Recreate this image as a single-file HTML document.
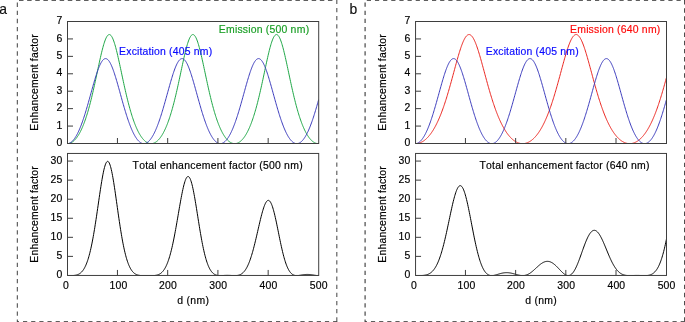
<!DOCTYPE html>
<html lang="en"><head><meta charset="utf-8"><title>Enhancement factor</title>
<style>html,body{margin:0;padding:0;background:#fff;}body{width:685px;height:322px;overflow:hidden;}svg{display:block;}text{font-family:"Liberation Sans",sans-serif;stroke-width:0.18px;stroke-linejoin:round;}</style></head><body>
<svg width="685" height="322" viewBox="0 0 685 322">
<rect width="685" height="322" fill="#fff"/>
<line x1="17.35" y1="0.00" x2="17.35" y2="322.00" stroke="#585858" stroke-width="1.15" stroke-dasharray="4.40 3.73" stroke-dashoffset="-2.50"/>
<line x1="336.80" y1="0.00" x2="336.80" y2="322.00" stroke="#5c5c5c" stroke-width="1.15" stroke-dasharray="4.30 3.84" stroke-dashoffset="8.39"/>
<line x1="17.35" y1="0.10" x2="335.50" y2="0.10" stroke="#2a2a2a" stroke-width="1.30" stroke-dasharray="4.50 3.63" stroke-dashoffset="-1.65"/>
<line x1="17.35" y1="321.90" x2="337.40" y2="321.90" stroke="#2a2a2a" stroke-width="1.30" stroke-dasharray="4.20 3.96" stroke-dashoffset="2.51"/>
<line x1="365.10" y1="0.00" x2="365.10" y2="322.00" stroke="#555555" stroke-width="1.30" stroke-dasharray="4.30 3.83" stroke-dashoffset="-2.50"/>
<line x1="684.85" y1="0.00" x2="684.85" y2="322.00" stroke="#222222" stroke-width="1.30" stroke-dasharray="4.40 3.73" stroke-dashoffset="8.03"/>
<line x1="365.10" y1="0.10" x2="684.85" y2="0.10" stroke="#2a2a2a" stroke-width="1.30" stroke-dasharray="4.20 3.95" stroke-dashoffset="-1.70"/>
<line x1="365.10" y1="321.90" x2="684.85" y2="321.90" stroke="#2a2a2a" stroke-width="1.30" stroke-dasharray="4.20 3.95" stroke-dashoffset="2.30"/>
<text transform="translate(-0.70,13.80) scale(1.000,1)" x="0.00" y="0" font-size="13.90" fill="#111" stroke="#111" stroke-width="0.30">a</text>
<text transform="translate(349.40,13.80) scale(1.000,1)" x="0.00" y="0" font-size="13.90" fill="#111" stroke="#111" stroke-width="0.30">b</text>
<clipPath id="c0top"><rect x="67.50" y="21.50" width="251.20" height="122.50"/></clipPath>
<g fill="none" stroke-width="1.00" stroke-linejoin="round" clip-path="url(#c0top)">
<path d="M67.50,143.65 L67.90,143.64 L68.30,143.61 L68.71,143.55 L69.11,143.47 L69.51,143.37 L69.91,143.25 L70.31,143.10 L70.72,142.93 L71.12,142.74 L71.52,142.53 L71.92,142.29 L72.32,142.03 L72.72,141.74 L73.13,141.44 L73.53,141.11 L73.93,140.75 L74.33,140.37 L74.73,139.97 L75.14,139.54 L75.54,139.09 L75.94,138.61 L76.34,138.11 L76.74,137.58 L77.15,137.03 L77.55,136.45 L77.95,135.84 L78.35,135.21 L78.75,134.55 L79.16,133.86 L79.56,133.15 L79.96,132.41 L80.36,131.63 L80.76,130.84 L81.17,130.01 L81.57,129.15 L81.97,128.26 L82.37,127.35 L82.77,126.40 L83.17,125.42 L83.58,124.41 L83.98,123.37 L84.38,122.30 L84.78,121.20 L85.18,120.07 L85.59,118.90 L85.99,117.70 L86.39,116.47 L86.79,115.21 L87.19,113.91 L87.60,112.58 L88.00,111.22 L88.40,109.83 L88.80,108.40 L89.20,106.94 L89.61,105.45 L90.01,103.93 L90.41,102.38 L90.81,100.80 L91.21,99.18 L91.62,97.54 L92.02,95.87 L92.42,94.17 L92.82,92.45 L93.22,90.70 L93.62,88.93 L94.03,87.13 L94.43,85.32 L94.83,83.49 L95.23,81.64 L95.63,79.77 L96.04,77.90 L96.44,76.02 L96.84,74.13 L97.24,72.23 L97.64,70.34 L98.05,68.45 L98.45,66.57 L98.85,64.70 L99.25,62.84 L99.65,61.01 L100.06,59.19 L100.46,57.41 L100.86,55.65 L101.26,53.94 L101.66,52.26 L102.07,50.64 L102.47,49.06 L102.87,47.54 L103.27,46.09 L103.67,44.70 L104.07,43.38 L104.48,42.14 L104.88,40.97 L105.28,39.90 L105.68,38.91 L106.08,38.01 L106.49,37.22 L106.89,36.52 L107.29,35.92 L107.69,35.43 L108.09,35.04 L108.50,34.77 L108.90,34.60 L109.30,34.55 L109.70,34.60 L110.10,34.77 L110.51,35.04 L110.91,35.43 L111.31,35.92 L111.71,36.52 L112.11,37.22 L112.52,38.01 L112.92,38.91 L113.32,39.90 L113.72,40.97 L114.12,42.14 L114.52,43.38 L114.93,44.70 L115.33,46.09 L115.73,47.54 L116.13,49.06 L116.53,50.64 L116.94,52.26 L117.34,53.94 L117.74,55.65 L118.14,57.41 L118.54,59.19 L118.95,61.01 L119.35,62.84 L119.75,64.70 L120.15,66.57 L120.55,68.45 L120.96,70.34 L121.36,72.23 L121.76,74.13 L122.16,76.02 L122.56,77.90 L122.96,79.77 L123.37,81.64 L123.77,83.49 L124.17,85.32 L124.57,87.13 L124.97,88.93 L125.38,90.70 L125.78,92.45 L126.18,94.17 L126.58,95.87 L126.98,97.54 L127.39,99.18 L127.79,100.80 L128.19,102.38 L128.59,103.93 L128.99,105.45 L129.40,106.94 L129.80,108.40 L130.20,109.83 L130.60,111.22 L131.00,112.58 L131.41,113.91 L131.81,115.21 L132.21,116.47 L132.61,117.70 L133.01,118.90 L133.41,120.07 L133.82,121.20 L134.22,122.30 L134.62,123.37 L135.02,124.41 L135.42,125.42 L135.83,126.40 L136.23,127.35 L136.63,128.26 L137.03,129.15 L137.43,130.01 L137.84,130.84 L138.24,131.63 L138.64,132.41 L139.04,133.15 L139.44,133.86 L139.85,134.55 L140.25,135.21 L140.65,135.84 L141.05,136.45 L141.45,137.03 L141.86,137.58 L142.26,138.11 L142.66,138.61 L143.06,139.09 L143.46,139.54 L143.86,139.97 L144.27,140.37 L144.67,140.75 L145.07,141.11 L145.47,141.44 L145.87,141.74 L146.28,142.03 L146.68,142.29 L147.08,142.53 L147.48,142.74 L147.88,142.93 L148.29,143.10 L148.69,143.25 L149.09,143.37 L149.49,143.47 L149.89,143.55 L150.30,143.61 L150.70,143.64 L151.10,143.65 L151.50,143.64 L151.90,143.61 L152.31,143.55 L152.71,143.47 L153.11,143.37 L153.51,143.25 L153.91,143.10 L154.31,142.93 L154.72,142.74 L155.12,142.53 L155.52,142.29 L155.92,142.03 L156.32,141.74 L156.73,141.44 L157.13,141.11 L157.53,140.75 L157.93,140.37 L158.33,139.97 L158.74,139.54 L159.14,139.09 L159.54,138.61 L159.94,138.11 L160.34,137.58 L160.75,137.03 L161.15,136.45 L161.55,135.84 L161.95,135.21 L162.35,134.55 L162.76,133.86 L163.16,133.15 L163.56,132.41 L163.96,131.63 L164.36,130.84 L164.76,130.01 L165.17,129.15 L165.57,128.26 L165.97,127.35 L166.37,126.40 L166.77,125.42 L167.18,124.41 L167.58,123.37 L167.98,122.30 L168.38,121.20 L168.78,120.07 L169.19,118.90 L169.59,117.70 L169.99,116.47 L170.39,115.21 L170.79,113.91 L171.20,112.58 L171.60,111.22 L172.00,109.83 L172.40,108.40 L172.80,106.94 L173.20,105.45 L173.61,103.93 L174.01,102.38 L174.41,100.80 L174.81,99.18 L175.21,97.54 L175.62,95.87 L176.02,94.17 L176.42,92.45 L176.82,90.70 L177.22,88.93 L177.63,87.13 L178.03,85.32 L178.43,83.49 L178.83,81.64 L179.23,79.77 L179.64,77.90 L180.04,76.02 L180.44,74.13 L180.84,72.23 L181.24,70.34 L181.65,68.45 L182.05,66.57 L182.45,64.70 L182.85,62.84 L183.25,61.01 L183.65,59.19 L184.06,57.41 L184.46,55.65 L184.86,53.94 L185.26,52.26 L185.66,50.64 L186.07,49.06 L186.47,47.54 L186.87,46.09 L187.27,44.70 L187.67,43.38 L188.08,42.14 L188.48,40.97 L188.88,39.90 L189.28,38.91 L189.68,38.01 L190.09,37.22 L190.49,36.52 L190.89,35.92 L191.29,35.43 L191.69,35.04 L192.10,34.77 L192.50,34.60 L192.90,34.55 L193.30,34.60 L193.70,34.77 L194.10,35.04 L194.51,35.43 L194.91,35.92 L195.31,36.52 L195.71,37.22 L196.11,38.01 L196.52,38.91 L196.92,39.90 L197.32,40.97 L197.72,42.14 L198.12,43.38 L198.53,44.70 L198.93,46.09 L199.33,47.54 L199.73,49.06 L200.13,50.64 L200.54,52.26 L200.94,53.94 L201.34,55.65 L201.74,57.41 L202.14,59.19 L202.55,61.01 L202.95,62.84 L203.35,64.70 L203.75,66.57 L204.15,68.45 L204.55,70.34 L204.96,72.23 L205.36,74.13 L205.76,76.02 L206.16,77.90 L206.56,79.77 L206.97,81.64 L207.37,83.49 L207.77,85.32 L208.17,87.13 L208.57,88.93 L208.98,90.70 L209.38,92.45 L209.78,94.17 L210.18,95.87 L210.58,97.54 L210.99,99.18 L211.39,100.80 L211.79,102.38 L212.19,103.93 L212.59,105.45 L213.00,106.94 L213.40,108.40 L213.80,109.83 L214.20,111.22 L214.60,112.58 L215.00,113.91 L215.41,115.21 L215.81,116.47 L216.21,117.70 L216.61,118.90 L217.01,120.07 L217.42,121.20 L217.82,122.30 L218.22,123.37 L218.62,124.41 L219.02,125.42 L219.43,126.40 L219.83,127.35 L220.23,128.26 L220.63,129.15 L221.03,130.01 L221.44,130.84 L221.84,131.63 L222.24,132.41 L222.64,133.15 L223.04,133.86 L223.44,134.55 L223.85,135.21 L224.25,135.84 L224.65,136.45 L225.05,137.03 L225.45,137.58 L225.86,138.11 L226.26,138.61 L226.66,139.09 L227.06,139.54 L227.46,139.97 L227.87,140.37 L228.27,140.75 L228.67,141.11 L229.07,141.44 L229.47,141.74 L229.88,142.03 L230.28,142.29 L230.68,142.53 L231.08,142.74 L231.48,142.93 L231.89,143.10 L232.29,143.25 L232.69,143.37 L233.09,143.47 L233.49,143.55 L233.89,143.61 L234.30,143.64 L234.70,143.65 L235.10,143.64 L235.50,143.61 L235.90,143.55 L236.31,143.47 L236.71,143.37 L237.11,143.25 L237.51,143.10 L237.91,142.93 L238.32,142.74 L238.72,142.53 L239.12,142.29 L239.52,142.03 L239.92,141.74 L240.33,141.44 L240.73,141.11 L241.13,140.75 L241.53,140.37 L241.93,139.97 L242.34,139.54 L242.74,139.09 L243.14,138.61 L243.54,138.11 L243.94,137.58 L244.34,137.03 L244.75,136.45 L245.15,135.84 L245.55,135.21 L245.95,134.55 L246.35,133.86 L246.76,133.15 L247.16,132.41 L247.56,131.63 L247.96,130.84 L248.36,130.01 L248.77,129.15 L249.17,128.26 L249.57,127.35 L249.97,126.40 L250.37,125.42 L250.78,124.41 L251.18,123.37 L251.58,122.30 L251.98,121.20 L252.38,120.07 L252.79,118.90 L253.19,117.70 L253.59,116.47 L253.99,115.21 L254.39,113.91 L254.79,112.58 L255.20,111.22 L255.60,109.83 L256.00,108.40 L256.40,106.94 L256.80,105.45 L257.21,103.93 L257.61,102.38 L258.01,100.80 L258.41,99.18 L258.81,97.54 L259.22,95.87 L259.62,94.17 L260.02,92.45 L260.42,90.70 L260.82,88.93 L261.23,87.13 L261.63,85.32 L262.03,83.49 L262.43,81.64 L262.83,79.77 L263.24,77.90 L263.64,76.02 L264.04,74.13 L264.44,72.23 L264.84,70.34 L265.24,68.45 L265.65,66.57 L266.05,64.70 L266.45,62.84 L266.85,61.01 L267.25,59.19 L267.66,57.41 L268.06,55.65 L268.46,53.94 L268.86,52.26 L269.26,50.64 L269.67,49.06 L270.07,47.54 L270.47,46.09 L270.87,44.70 L271.27,43.38 L271.68,42.14 L272.08,40.97 L272.48,39.90 L272.88,38.91 L273.28,38.01 L273.68,37.22 L274.09,36.52 L274.49,35.92 L274.89,35.43 L275.29,35.04 L275.69,34.77 L276.10,34.60 L276.50,34.55 L276.90,34.60 L277.30,34.77 L277.70,35.04 L278.11,35.43 L278.51,35.92 L278.91,36.52 L279.31,37.22 L279.71,38.01 L280.12,38.91 L280.52,39.90 L280.92,40.97 L281.32,42.14 L281.72,43.38 L282.13,44.70 L282.53,46.09 L282.93,47.54 L283.33,49.06 L283.73,50.64 L284.13,52.26 L284.54,53.94 L284.94,55.65 L285.34,57.41 L285.74,59.19 L286.14,61.01 L286.55,62.84 L286.95,64.70 L287.35,66.57 L287.75,68.45 L288.15,70.34 L288.56,72.23 L288.96,74.13 L289.36,76.02 L289.76,77.90 L290.16,79.77 L290.57,81.64 L290.97,83.49 L291.37,85.32 L291.77,87.13 L292.17,88.93 L292.58,90.70 L292.98,92.45 L293.38,94.17 L293.78,95.87 L294.18,97.54 L294.58,99.18 L294.99,100.80 L295.39,102.38 L295.79,103.93 L296.19,105.45 L296.59,106.94 L297.00,108.40 L297.40,109.83 L297.80,111.22 L298.20,112.58 L298.60,113.91 L299.01,115.21 L299.41,116.47 L299.81,117.70 L300.21,118.90 L300.61,120.07 L301.02,121.20 L301.42,122.30 L301.82,123.37 L302.22,124.41 L302.62,125.42 L303.03,126.40 L303.43,127.35 L303.83,128.26 L304.23,129.15 L304.63,130.01 L305.03,130.84 L305.44,131.63 L305.84,132.41 L306.24,133.15 L306.64,133.86 L307.04,134.55 L307.45,135.21 L307.85,135.84 L308.25,136.45 L308.65,137.03 L309.05,137.58 L309.46,138.11 L309.86,138.61 L310.26,139.09 L310.66,139.54 L311.06,139.97 L311.47,140.37 L311.87,140.75 L312.27,141.11 L312.67,141.44 L313.07,141.74 L313.48,142.03 L313.88,142.29 L314.28,142.53 L314.68,142.74 L315.08,142.93 L315.48,143.10 L315.89,143.25 L316.29,143.37 L316.69,143.47 L317.09,143.55 L317.49,143.61 L317.90,143.64 L318.30,143.65 L318.70,143.64" stroke="#1ea646"/>
<path d="M67.50,143.65 L67.90,143.62 L68.30,143.56 L68.71,143.46 L69.11,143.34 L69.51,143.18 L69.91,143.00 L70.31,142.78 L70.72,142.53 L71.12,142.25 L71.52,141.93 L71.92,141.59 L72.32,141.21 L72.72,140.80 L73.13,140.37 L73.53,139.89 L73.93,139.39 L74.33,138.86 L74.73,138.30 L75.14,137.70 L75.54,137.08 L75.94,136.42 L76.34,135.73 L76.74,135.02 L77.15,134.27 L77.55,133.49 L77.95,132.68 L78.35,131.84 L78.75,130.97 L79.16,130.08 L79.56,129.15 L79.96,128.20 L80.36,127.21 L80.76,126.20 L81.17,125.16 L81.57,124.09 L81.97,123.00 L82.37,121.88 L82.77,120.74 L83.17,119.57 L83.58,118.37 L83.98,117.15 L84.38,115.91 L84.78,114.65 L85.18,113.36 L85.59,112.06 L85.99,110.74 L86.39,109.39 L86.79,108.04 L87.19,106.66 L87.60,105.27 L88.00,103.87 L88.40,102.45 L88.80,101.03 L89.20,99.59 L89.61,98.15 L90.01,96.70 L90.41,95.25 L90.81,93.79 L91.21,92.34 L91.62,90.89 L92.02,89.44 L92.42,87.99 L92.82,86.56 L93.22,85.13 L93.62,83.72 L94.03,82.32 L94.43,80.94 L94.83,79.58 L95.23,78.24 L95.63,76.92 L96.04,75.63 L96.44,74.37 L96.84,73.14 L97.24,71.95 L97.64,70.79 L98.05,69.67 L98.45,68.60 L98.85,67.56 L99.25,66.58 L99.65,65.64 L100.06,64.75 L100.46,63.92 L100.86,63.14 L101.26,62.41 L101.66,61.75 L102.07,61.14 L102.47,60.60 L102.87,60.12 L103.27,59.70 L103.67,59.35 L104.07,59.07 L104.48,58.85 L104.88,58.70 L105.28,58.62 L105.68,58.60 L106.08,58.65 L106.49,58.78 L106.89,58.96 L107.29,59.22 L107.69,59.54 L108.09,59.93 L108.50,60.38 L108.90,60.90 L109.30,61.48 L109.70,62.12 L110.10,62.81 L110.51,63.57 L110.91,64.38 L111.31,65.25 L111.71,66.16 L112.11,67.13 L112.52,68.14 L112.92,69.20 L113.32,70.30 L113.72,71.44 L114.12,72.62 L114.52,73.83 L114.93,75.08 L115.33,76.35 L115.73,77.66 L116.13,78.99 L116.53,80.34 L116.94,81.71 L117.34,83.10 L117.74,84.51 L118.14,85.93 L118.54,87.36 L118.95,88.80 L119.35,90.25 L119.75,91.70 L120.15,93.16 L120.55,94.61 L120.96,96.06 L121.36,97.52 L121.76,98.96 L122.16,100.40 L122.56,101.83 L122.96,103.25 L123.37,104.66 L123.77,106.05 L124.17,107.44 L124.57,108.80 L124.97,110.15 L125.38,111.48 L125.78,112.80 L126.18,114.09 L126.58,115.36 L126.98,116.61 L127.39,117.84 L127.79,119.05 L128.19,120.23 L128.59,121.38 L128.99,122.51 L129.40,123.62 L129.80,124.70 L130.20,125.75 L130.60,126.77 L131.00,127.77 L131.41,128.74 L131.81,129.67 L132.21,130.59 L132.61,131.47 L133.01,132.32 L133.41,133.14 L133.82,133.93 L134.22,134.69 L134.62,135.42 L135.02,136.12 L135.42,136.79 L135.83,137.43 L136.23,138.04 L136.63,138.62 L137.03,139.16 L137.43,139.68 L137.84,140.16 L138.24,140.62 L138.64,141.04 L139.04,141.43 L139.44,141.79 L139.85,142.11 L140.25,142.41 L140.65,142.67 L141.05,142.90 L141.45,143.11 L141.86,143.28 L142.26,143.41 L142.66,143.52 L143.06,143.59 L143.46,143.64 L143.86,143.65 L144.27,143.63 L144.67,143.58 L145.07,143.50 L145.47,143.38 L145.87,143.24 L146.28,143.06 L146.68,142.85 L147.08,142.61 L147.48,142.34 L147.88,142.03 L148.29,141.70 L148.69,141.33 L149.09,140.93 L149.49,140.51 L149.89,140.05 L150.30,139.55 L150.70,139.03 L151.10,138.48 L151.50,137.89 L151.90,137.28 L152.31,136.63 L152.71,135.95 L153.11,135.24 L153.51,134.50 L153.91,133.74 L154.31,132.94 L154.72,132.11 L155.12,131.25 L155.52,130.36 L155.92,129.44 L156.32,128.50 L156.73,127.52 L157.13,126.52 L157.53,125.49 L157.93,124.43 L158.33,123.35 L158.74,122.23 L159.14,121.10 L159.54,119.93 L159.94,118.75 L160.34,117.54 L160.75,116.30 L161.15,115.05 L161.55,113.77 L161.95,112.47 L162.35,111.15 L162.76,109.82 L163.16,108.46 L163.56,107.09 L163.96,105.71 L164.36,104.31 L164.76,102.89 L165.17,101.47 L165.57,100.04 L165.97,98.60 L166.37,97.15 L166.77,95.70 L167.18,94.25 L167.58,92.79 L167.98,91.34 L168.38,89.89 L168.78,88.44 L169.19,87.01 L169.59,85.58 L169.99,84.16 L170.39,82.76 L170.79,81.37 L171.20,80.00 L171.60,78.65 L172.00,77.33 L172.40,76.03 L172.80,74.76 L173.20,73.52 L173.61,72.32 L174.01,71.15 L174.41,70.02 L174.81,68.93 L175.21,67.88 L175.62,66.88 L176.02,65.93 L176.42,65.02 L176.82,64.17 L177.22,63.38 L177.63,62.63 L178.03,61.95 L178.43,61.33 L178.83,60.76 L179.23,60.26 L179.64,59.83 L180.04,59.46 L180.44,59.15 L180.84,58.91 L181.24,58.74 L181.65,58.63 L182.05,58.60 L182.45,58.63 L182.85,58.73 L183.25,58.90 L183.65,59.13 L184.06,59.43 L184.46,59.80 L184.86,60.23 L185.26,60.73 L185.66,61.29 L186.07,61.91 L186.47,62.59 L186.87,63.33 L187.27,64.12 L187.67,64.97 L188.08,65.87 L188.48,66.82 L188.88,67.82 L189.28,68.86 L189.68,69.95 L190.09,71.08 L190.49,72.24 L190.89,73.45 L191.29,74.68 L191.69,75.95 L192.10,77.25 L192.50,78.57 L192.90,79.92 L193.30,81.28 L193.70,82.67 L194.10,84.07 L194.51,85.49 L194.91,86.92 L195.31,88.35 L195.71,89.80 L196.11,91.25 L196.52,92.70 L196.92,94.16 L197.32,95.61 L197.72,97.06 L198.12,98.51 L198.53,99.95 L198.93,101.38 L199.33,102.81 L199.73,104.22 L200.13,105.62 L200.54,107.01 L200.94,108.38 L201.34,109.73 L201.74,111.07 L202.14,112.39 L202.55,113.69 L202.95,114.97 L203.35,116.22 L203.75,117.46 L204.15,118.67 L204.55,119.86 L204.96,121.02 L205.36,122.16 L205.76,123.28 L206.16,124.36 L206.56,125.42 L206.97,126.46 L207.37,127.46 L207.77,128.44 L208.17,129.38 L208.57,130.30 L208.98,131.19 L209.38,132.05 L209.78,132.89 L210.18,133.69 L210.58,134.46 L210.99,135.20 L211.39,135.91 L211.79,136.59 L212.19,137.24 L212.59,137.85 L213.00,138.44 L213.40,139.00 L213.80,139.52 L214.20,140.02 L214.60,140.48 L215.00,140.91 L215.41,141.31 L215.81,141.68 L216.21,142.01 L216.61,142.32 L217.01,142.59 L217.42,142.84 L217.82,143.05 L218.22,143.23 L218.62,143.37 L219.02,143.49 L219.43,143.57 L219.83,143.63 L220.23,143.65 L220.63,143.64 L221.03,143.60 L221.44,143.53 L221.84,143.42 L222.24,143.28 L222.64,143.12 L223.04,142.92 L223.44,142.69 L223.85,142.43 L224.25,142.13 L224.65,141.81 L225.05,141.45 L225.45,141.06 L225.86,140.64 L226.26,140.19 L226.66,139.71 L227.06,139.20 L227.46,138.65 L227.87,138.08 L228.27,137.47 L228.67,136.83 L229.07,136.17 L229.47,135.47 L229.88,134.74 L230.28,133.98 L230.68,133.19 L231.08,132.37 L231.48,131.52 L231.89,130.64 L232.29,129.73 L232.69,128.80 L233.09,127.83 L233.49,126.84 L233.89,125.81 L234.30,124.76 L234.70,123.69 L235.10,122.58 L235.50,121.45 L235.90,120.30 L236.31,119.12 L236.71,117.92 L237.11,116.69 L237.51,115.44 L237.91,114.17 L238.32,112.88 L238.72,111.57 L239.12,110.24 L239.52,108.89 L239.92,107.52 L240.33,106.14 L240.73,104.75 L241.13,103.34 L241.53,101.92 L241.93,100.49 L242.34,99.05 L242.74,97.61 L243.14,96.16 L243.54,94.70 L243.94,93.25 L244.34,91.79 L244.75,90.34 L245.15,88.89 L245.55,87.45 L245.95,86.02 L246.35,84.60 L246.76,83.19 L247.16,81.80 L247.56,80.43 L247.96,79.07 L248.36,77.74 L248.77,76.43 L249.17,75.16 L249.57,73.91 L249.97,72.69 L250.37,71.51 L250.78,70.37 L251.18,69.27 L251.58,68.20 L251.98,67.19 L252.38,66.22 L252.79,65.30 L253.19,64.43 L253.59,63.62 L253.99,62.86 L254.39,62.16 L254.79,61.52 L255.20,60.93 L255.60,60.41 L256.00,59.96 L256.40,59.56 L256.80,59.24 L257.21,58.98 L257.61,58.79 L258.01,58.66 L258.41,58.60 L258.81,58.61 L259.22,58.69 L259.62,58.84 L260.02,59.05 L260.42,59.33 L260.82,59.68 L261.23,60.09 L261.63,60.57 L262.03,61.11 L262.43,61.71 L262.83,62.37 L263.24,63.09 L263.64,63.87 L264.04,64.70 L264.44,65.58 L264.84,66.52 L265.24,67.50 L265.65,68.53 L266.05,69.61 L266.45,70.72 L266.85,71.88 L267.25,73.07 L267.66,74.29 L268.06,75.55 L268.46,76.84 L268.86,78.15 L269.26,79.49 L269.67,80.85 L270.07,82.23 L270.47,83.63 L270.87,85.04 L271.27,86.47 L271.68,87.90 L272.08,89.35 L272.48,90.80 L272.88,92.25 L273.28,93.70 L273.68,95.16 L274.09,96.61 L274.49,98.06 L274.89,99.50 L275.29,100.94 L275.69,102.36 L276.10,103.78 L276.50,105.18 L276.90,106.57 L277.30,107.95 L277.70,109.31 L278.11,110.65 L278.51,111.98 L278.91,113.28 L279.31,114.57 L279.71,115.83 L280.12,117.08 L280.52,118.30 L280.92,119.49 L281.32,120.66 L281.72,121.81 L282.13,122.93 L282.53,124.03 L282.93,125.09 L283.33,126.14 L283.73,127.15 L284.13,128.13 L284.54,129.09 L284.94,130.02 L285.34,130.92 L285.74,131.79 L286.14,132.63 L286.55,133.44 L286.95,134.22 L287.35,134.97 L287.75,135.69 L288.15,136.38 L288.56,137.04 L288.96,137.66 L289.36,138.26 L289.76,138.83 L290.16,139.36 L290.57,139.86 L290.97,140.34 L291.37,140.78 L291.77,141.19 L292.17,141.56 L292.58,141.91 L292.98,142.23 L293.38,142.51 L293.78,142.76 L294.18,142.98 L294.58,143.17 L294.99,143.33 L295.39,143.46 L295.79,143.55 L296.19,143.61 L296.59,143.65 L297.00,143.65 L297.40,143.61 L297.80,143.55 L298.20,143.46 L298.60,143.33 L299.01,143.17 L299.41,142.98 L299.81,142.76 L300.21,142.51 L300.61,142.23 L301.02,141.91 L301.42,141.56 L301.82,141.19 L302.22,140.78 L302.62,140.34 L303.03,139.86 L303.43,139.36 L303.83,138.83 L304.23,138.26 L304.63,137.66 L305.03,137.04 L305.44,136.38 L305.84,135.69 L306.24,134.97 L306.64,134.22 L307.04,133.44 L307.45,132.63 L307.85,131.79 L308.25,130.92 L308.65,130.02 L309.05,129.09 L309.46,128.13 L309.86,127.15 L310.26,126.14 L310.66,125.09 L311.06,124.03 L311.47,122.93 L311.87,121.81 L312.27,120.66 L312.67,119.49 L313.07,118.30 L313.48,117.08 L313.88,115.83 L314.28,114.57 L314.68,113.28 L315.08,111.98 L315.48,110.65 L315.89,109.31 L316.29,107.95 L316.69,106.57 L317.09,105.18 L317.49,103.78 L317.90,102.36 L318.30,100.94 L318.70,99.50" stroke="#3c3cbc"/>
</g>
<rect x="67.50" y="21.50" width="251.20" height="122.00" fill="none" stroke="#3e3e3e" stroke-width="1.00"/>
<text transform="translate(62.50,146.20) scale(0.950,1)" x="-6.28" y="0" font-size="11.00" fill="#000000" stroke="#000000">0</text>
<text transform="translate(62.50,128.77) scale(0.950,1)" x="-6.28" y="0" font-size="11.00" fill="#000000" stroke="#000000">1</text>
<text transform="translate(62.50,111.34) scale(0.950,1)" x="-6.28" y="0" font-size="11.00" fill="#000000" stroke="#000000">2</text>
<text transform="translate(62.50,93.91) scale(0.950,1)" x="-6.28" y="0" font-size="11.00" fill="#000000" stroke="#000000">3</text>
<text transform="translate(62.50,76.49) scale(0.950,1)" x="-6.28" y="0" font-size="11.00" fill="#000000" stroke="#000000">4</text>
<text transform="translate(62.50,59.06) scale(0.950,1)" x="-6.28" y="0" font-size="11.00" fill="#000000" stroke="#000000">5</text>
<text transform="translate(62.50,41.63) scale(0.950,1)" x="-6.28" y="0" font-size="11.00" fill="#000000" stroke="#000000">6</text>
<text transform="translate(62.50,24.20) scale(0.950,1)" x="-6.28" y="0" font-size="11.00" fill="#000000" stroke="#000000">7</text>
<path d="M67.50,126.07 h5.50 M67.50,108.64 h5.50 M67.50,91.21 h5.50 M67.50,73.79 h5.50 M67.50,56.36 h5.50 M67.50,38.93 h5.50 M117.44,143.50 v-5.50 M167.68,143.50 v-5.50 M217.92,143.50 v-5.50 M268.16,143.50 v-5.50" stroke="#3e3e3e" stroke-width="1.00" fill="none"/>
<text transform="translate(38.10,82.50) rotate(-90) scale(0.950,1)" x="-50.76 -43.19 -36.87 -30.55 -24.22 -17.91 -12.21 -5.84 3.58 9.91 16.18 19.34 22.50 25.71 32.02 37.66 40.87 47.16" y="0" font-size="11.00" fill="#000000" stroke="#000000">Enhancement factor</text>
<clipPath id="c0bot"><rect x="67.50" y="153.45" width="251.20" height="122.50"/></clipPath>
<g fill="none" stroke-width="1.00" stroke-linejoin="round" clip-path="url(#c0bot)">
<path d="M67.50,275.60 L67.90,275.60 L68.30,275.60 L68.71,275.60 L69.11,275.60 L69.51,275.60 L69.91,275.60 L70.31,275.59 L70.72,275.59 L71.12,275.58 L71.52,275.58 L71.92,275.56 L72.32,275.55 L72.72,275.53 L73.13,275.51 L73.53,275.48 L73.93,275.45 L74.33,275.40 L74.73,275.35 L75.14,275.29 L75.54,275.22 L75.94,275.14 L76.34,275.05 L76.74,274.94 L77.15,274.82 L77.55,274.68 L77.95,274.52 L78.35,274.35 L78.75,274.15 L79.16,273.93 L79.56,273.69 L79.96,273.42 L80.36,273.12 L80.76,272.79 L81.17,272.43 L81.57,272.04 L81.97,271.61 L82.37,271.15 L82.77,270.64 L83.17,270.09 L83.58,269.50 L83.98,268.86 L84.38,268.17 L84.78,267.43 L85.18,266.64 L85.59,265.79 L85.99,264.88 L86.39,263.91 L86.79,262.89 L87.19,261.79 L87.60,260.63 L88.00,259.41 L88.40,258.11 L88.80,256.74 L89.20,255.30 L89.61,253.79 L90.01,252.19 L90.41,250.53 L90.81,248.78 L91.21,246.96 L91.62,245.06 L92.02,243.09 L92.42,241.04 L92.82,238.91 L93.22,236.71 L93.62,234.44 L94.03,232.10 L94.43,229.69 L94.83,227.22 L95.23,224.69 L95.63,222.10 L96.04,219.47 L96.44,216.79 L96.84,214.07 L97.24,211.33 L97.64,208.56 L98.05,205.78 L98.45,202.99 L98.85,200.20 L99.25,197.43 L99.65,194.68 L100.06,191.96 L100.46,189.29 L100.86,186.68 L101.26,184.13 L101.66,181.66 L102.07,179.28 L102.47,177.00 L102.87,174.84 L103.27,172.80 L103.67,170.90 L104.07,169.15 L104.48,167.55 L104.88,166.12 L105.28,164.87 L105.68,163.79 L106.08,162.91 L106.49,162.22 L106.89,161.73 L107.29,161.44 L107.69,161.36 L108.09,161.48 L108.50,161.81 L108.90,162.34 L109.30,163.07 L109.70,164.01 L110.10,165.13 L110.51,166.44 L110.91,167.93 L111.31,169.59 L111.71,171.40 L112.11,173.37 L112.52,175.48 L112.92,177.72 L113.32,180.08 L113.72,182.54 L114.12,185.09 L114.52,187.73 L114.93,190.43 L115.33,193.19 L115.73,196.00 L116.13,198.83 L116.53,201.69 L116.94,204.56 L117.34,207.43 L117.74,210.28 L118.14,213.12 L118.54,215.93 L118.95,218.71 L119.35,221.44 L119.75,224.12 L120.15,226.75 L120.55,229.32 L120.96,231.82 L121.36,234.25 L121.76,236.60 L122.16,238.88 L122.56,241.09 L122.96,243.21 L123.37,245.25 L123.77,247.21 L124.17,249.09 L124.57,250.88 L124.97,252.59 L125.38,254.22 L125.78,255.77 L126.18,257.24 L126.58,258.64 L126.98,259.95 L127.39,261.20 L127.79,262.37 L128.19,263.47 L128.59,264.50 L128.99,265.47 L129.40,266.37 L129.80,267.22 L130.20,268.00 L130.60,268.73 L131.00,269.41 L131.41,270.03 L131.81,270.61 L132.21,271.14 L132.61,271.63 L133.01,272.08 L133.41,272.49 L133.82,272.86 L134.22,273.20 L134.62,273.51 L135.02,273.78 L135.42,274.03 L135.83,274.25 L136.23,274.45 L136.63,274.63 L137.03,274.78 L137.43,274.92 L137.84,275.04 L138.24,275.14 L138.64,275.23 L139.04,275.31 L139.44,275.37 L139.85,275.42 L140.25,275.47 L140.65,275.50 L141.05,275.53 L141.45,275.55 L141.86,275.57 L142.26,275.58 L142.66,275.59 L143.06,275.60 L143.46,275.60 L143.86,275.60 L144.27,275.60 L144.67,275.60 L145.07,275.60 L145.47,275.59 L145.87,275.59 L146.28,275.59 L146.68,275.59 L147.08,275.59 L147.48,275.59 L147.88,275.59 L148.29,275.59 L148.69,275.59 L149.09,275.59 L149.49,275.59 L149.89,275.60 L150.30,275.60 L150.70,275.60 L151.10,275.60 L151.50,275.60 L151.90,275.60 L152.31,275.59 L152.71,275.58 L153.11,275.57 L153.51,275.55 L153.91,275.53 L154.31,275.50 L154.72,275.47 L155.12,275.43 L155.52,275.37 L155.92,275.31 L156.32,275.24 L156.73,275.15 L157.13,275.05 L157.53,274.94 L157.93,274.81 L158.33,274.66 L158.74,274.50 L159.14,274.31 L159.54,274.10 L159.94,273.87 L160.34,273.61 L160.75,273.33 L161.15,273.01 L161.55,272.67 L161.95,272.30 L162.35,271.89 L162.76,271.44 L163.16,270.96 L163.56,270.44 L163.96,269.88 L164.36,269.27 L164.76,268.62 L165.17,267.92 L165.57,267.18 L165.97,266.38 L166.37,265.53 L166.77,264.63 L167.18,263.67 L167.58,262.66 L167.98,261.58 L168.38,260.45 L168.78,259.26 L169.19,258.00 L169.59,256.69 L169.99,255.31 L170.39,253.86 L170.79,252.35 L171.20,250.78 L171.60,249.15 L172.00,247.45 L172.40,245.69 L172.80,243.86 L173.20,241.98 L173.61,240.04 L174.01,238.04 L174.41,236.00 L174.81,233.90 L175.21,231.75 L175.62,229.56 L176.02,227.33 L176.42,225.07 L176.82,222.78 L177.22,220.46 L177.63,218.13 L178.03,215.79 L178.43,213.43 L178.83,211.09 L179.23,208.75 L179.64,206.42 L180.04,204.13 L180.44,201.86 L180.84,199.64 L181.24,197.47 L181.65,195.36 L182.05,193.32 L182.45,191.35 L182.85,189.47 L183.25,187.69 L183.65,186.01 L184.06,184.44 L184.46,182.99 L184.86,181.67 L185.26,180.49 L185.66,179.45 L186.07,178.56 L186.47,177.82 L186.87,177.24 L187.27,176.83 L187.67,176.58 L188.08,176.50 L188.48,176.59 L188.88,176.85 L189.28,177.28 L189.68,177.88 L190.09,178.65 L190.49,179.58 L190.89,180.68 L191.29,181.92 L191.69,183.32 L192.10,184.85 L192.50,186.53 L192.90,188.32 L193.30,190.24 L193.70,192.26 L194.10,194.39 L194.51,196.60 L194.91,198.89 L195.31,201.24 L195.71,203.66 L196.11,206.12 L196.52,208.62 L196.92,211.15 L197.32,213.69 L197.72,216.24 L198.12,218.79 L198.53,221.32 L198.93,223.84 L199.33,226.33 L199.73,228.79 L200.13,231.20 L200.54,233.57 L200.94,235.88 L201.34,238.14 L201.74,240.33 L202.14,242.46 L202.55,244.52 L202.95,246.51 L203.35,248.42 L203.75,250.26 L204.15,252.03 L204.55,253.71 L204.96,255.32 L205.36,256.85 L205.76,258.30 L206.16,259.68 L206.56,260.99 L206.97,262.22 L207.37,263.37 L207.77,264.46 L208.17,265.48 L208.57,266.43 L208.98,267.32 L209.38,268.15 L209.78,268.92 L210.18,269.62 L210.58,270.28 L210.99,270.88 L211.39,271.44 L211.79,271.94 L212.19,272.40 L212.59,272.82 L213.00,273.20 L213.40,273.54 L213.80,273.85 L214.20,274.12 L214.60,274.36 L215.00,274.58 L215.41,274.76 L215.81,274.93 L216.21,275.07 L216.61,275.19 L217.01,275.29 L217.42,275.37 L217.82,275.44 L218.22,275.49 L218.62,275.53 L219.02,275.56 L219.43,275.58 L219.83,275.60 L220.23,275.60 L220.63,275.60 L221.03,275.59 L221.44,275.58 L221.84,275.57 L222.24,275.55 L222.64,275.53 L223.04,275.51 L223.44,275.49 L223.85,275.47 L224.25,275.45 L224.65,275.43 L225.05,275.42 L225.45,275.40 L225.86,275.39 L226.26,275.38 L226.66,275.37 L227.06,275.37 L227.46,275.37 L227.87,275.37 L228.27,275.38 L228.67,275.38 L229.07,275.39 L229.47,275.40 L229.88,275.42 L230.28,275.43 L230.68,275.45 L231.08,275.47 L231.48,275.49 L231.89,275.51 L232.29,275.53 L232.69,275.55 L233.09,275.56 L233.49,275.58 L233.89,275.59 L234.30,275.60 L234.70,275.60 L235.10,275.60 L235.50,275.59 L235.90,275.57 L236.31,275.54 L236.71,275.51 L237.11,275.46 L237.51,275.41 L237.91,275.33 L238.32,275.25 L238.72,275.15 L239.12,275.03 L239.52,274.89 L239.92,274.74 L240.33,274.56 L240.73,274.36 L241.13,274.13 L241.53,273.88 L241.93,273.61 L242.34,273.30 L242.74,272.96 L243.14,272.60 L243.54,272.20 L243.94,271.76 L244.34,271.29 L244.75,270.78 L245.15,270.23 L245.55,269.65 L245.95,269.02 L246.35,268.35 L246.76,267.63 L247.16,266.87 L247.56,266.07 L247.96,265.21 L248.36,264.31 L248.77,263.37 L249.17,262.37 L249.57,261.33 L249.97,260.24 L250.37,259.10 L250.78,257.91 L251.18,256.67 L251.58,255.39 L251.98,254.06 L252.38,252.68 L252.79,251.26 L253.19,249.80 L253.59,248.30 L253.99,246.76 L254.39,245.18 L254.79,243.57 L255.20,241.93 L255.60,240.27 L256.00,238.57 L256.40,236.86 L256.80,235.13 L257.21,233.39 L257.61,231.64 L258.01,229.89 L258.41,228.13 L258.81,226.39 L259.22,224.65 L259.62,222.93 L260.02,221.23 L260.42,219.56 L260.82,217.93 L261.23,216.33 L261.63,214.77 L262.03,213.27 L262.43,211.82 L262.83,210.44 L263.24,209.12 L263.64,207.87 L264.04,206.71 L264.44,205.62 L264.84,204.63 L265.24,203.73 L265.65,202.93 L266.05,202.23 L266.45,201.63 L266.85,201.15 L267.25,200.78 L267.66,200.52 L268.06,200.39 L268.46,200.37 L268.86,200.47 L269.26,200.70 L269.67,201.05 L270.07,201.52 L270.47,202.10 L270.87,202.81 L271.27,203.63 L271.68,204.57 L272.08,205.62 L272.48,206.77 L272.88,208.03 L273.28,209.38 L273.68,210.82 L274.09,212.35 L274.49,213.95 L274.89,215.63 L275.29,217.37 L275.69,219.18 L276.10,221.03 L276.50,222.92 L276.90,224.85 L277.30,226.81 L277.70,228.79 L278.11,230.78 L278.51,232.78 L278.91,234.77 L279.31,236.75 L279.71,238.72 L280.12,240.67 L280.52,242.58 L280.92,244.47 L281.32,246.31 L281.72,248.11 L282.13,249.87 L282.53,251.57 L282.93,253.22 L283.33,254.81 L283.73,256.34 L284.13,257.80 L284.54,259.21 L284.94,260.55 L285.34,261.82 L285.74,263.03 L286.14,264.17 L286.55,265.24 L286.95,266.25 L287.35,267.20 L287.75,268.09 L288.15,268.91 L288.56,269.67 L288.96,270.38 L289.36,271.03 L289.76,271.62 L290.16,272.16 L290.57,272.65 L290.97,273.10 L291.37,273.50 L291.77,273.85 L292.17,274.17 L292.58,274.44 L292.98,274.69 L293.38,274.89 L293.78,275.07 L294.18,275.21 L294.58,275.33 L294.99,275.43 L295.39,275.50 L295.79,275.55 L296.19,275.58 L296.59,275.60 L297.00,275.60 L297.40,275.58 L297.80,275.56 L298.20,275.52 L298.60,275.48 L299.01,275.43 L299.41,275.37 L299.81,275.31 L300.21,275.25 L300.61,275.18 L301.02,275.11 L301.42,275.04 L301.82,274.97 L302.22,274.91 L302.62,274.84 L303.03,274.78 L303.43,274.72 L303.83,274.67 L304.23,274.62 L304.63,274.58 L305.03,274.54 L305.44,274.50 L305.84,274.48 L306.24,274.46 L306.64,274.44 L307.04,274.43 L307.45,274.43 L307.85,274.44 L308.25,274.45 L308.65,274.47 L309.05,274.49 L309.46,274.52 L309.86,274.56 L310.26,274.60 L310.66,274.64 L311.06,274.69 L311.47,274.75 L311.87,274.81 L312.27,274.87 L312.67,274.93 L313.07,274.99 L313.48,275.06 L313.88,275.12 L314.28,275.19 L314.68,275.25 L315.08,275.31 L315.48,275.37 L315.89,275.43 L316.29,275.47 L316.69,275.52 L317.09,275.55 L317.49,275.58 L317.90,275.59 L318.30,275.60 L318.70,275.59" stroke="#000000"/>
</g>
<rect x="67.50" y="153.45" width="251.20" height="122.00" fill="none" stroke="#3e3e3e" stroke-width="1.00"/>
<text transform="translate(62.50,278.15) scale(0.950,1)" x="-6.28" y="0" font-size="11.00" fill="#000000" stroke="#000000">0</text>
<text transform="translate(62.50,259.09) scale(0.950,1)" x="-6.28" y="0" font-size="11.00" fill="#000000" stroke="#000000">5</text>
<text transform="translate(62.50,240.02) scale(0.950,1)" x="-12.72 -6.28" y="0" font-size="11.00" fill="#000000" stroke="#000000">10</text>
<text transform="translate(62.50,220.96) scale(0.950,1)" x="-12.72 -6.28" y="0" font-size="11.00" fill="#000000" stroke="#000000">15</text>
<text transform="translate(62.50,201.90) scale(0.950,1)" x="-12.72 -6.28" y="0" font-size="11.00" fill="#000000" stroke="#000000">20</text>
<text transform="translate(62.50,182.84) scale(0.950,1)" x="-12.72 -6.28" y="0" font-size="11.00" fill="#000000" stroke="#000000">25</text>
<text transform="translate(62.50,163.77) scale(0.950,1)" x="-12.72 -6.28" y="0" font-size="11.00" fill="#000000" stroke="#000000">30</text>
<path d="M67.50,256.39 h5.50 M67.50,237.32 h5.50 M67.50,218.26 h5.50 M67.50,199.20 h5.50 M67.50,180.14 h5.50 M67.50,161.07 h5.50 M117.44,275.45 v-5.50 M167.68,275.45 v-5.50 M217.92,275.45 v-5.50 M268.16,275.45 v-5.50" stroke="#3e3e3e" stroke-width="1.00" fill="none"/>
<text transform="translate(38.10,214.45) rotate(-90) scale(0.950,1)" x="-50.76 -43.19 -36.87 -30.55 -24.22 -17.91 -12.21 -5.84 3.58 9.91 16.18 19.34 22.50 25.71 32.02 37.66 40.87 47.16" y="0" font-size="11.00" fill="#000000" stroke="#000000">Enhancement factor</text>
<text transform="translate(65.80,288.80) scale(0.950,1)" x="-3.06" y="0" font-size="11.00" fill="#000000" stroke="#000000">0</text>
<text transform="translate(118.34,288.80) scale(0.950,1)" x="-9.34 -3.06 3.22" y="0" font-size="11.00" fill="#000000" stroke="#000000">100</text>
<text transform="translate(167.98,288.80) scale(0.950,1)" x="-9.34 -3.06 3.22" y="0" font-size="11.00" fill="#000000" stroke="#000000">200</text>
<text transform="translate(218.22,288.80) scale(0.950,1)" x="-9.34 -3.06 3.22" y="0" font-size="11.00" fill="#000000" stroke="#000000">300</text>
<text transform="translate(268.46,288.80) scale(0.950,1)" x="-9.34 -3.06 3.22" y="0" font-size="11.00" fill="#000000" stroke="#000000">400</text>
<text transform="translate(318.70,288.80) scale(0.950,1)" x="-9.34 -3.06 3.22" y="0" font-size="11.00" fill="#000000" stroke="#000000">500</text>
<text transform="translate(193.10,304.20) scale(0.950,1)" x="-16.57 -10.21 -6.97 -3.05 3.47 12.97" y="0" font-size="11.00" fill="#000000" stroke="#000000">d (nm)</text>
<text transform="translate(119.00,54.80) scale(0.950,1)" x="0.13 7.70 13.39 19.04 21.58 24.80 31.08 34.24 36.83 43.17 49.45 52.63 56.47 62.80 69.14 75.42 78.64 85.03 94.43" y="0" font-size="11.00" fill="#0a0aff" stroke="#0a0aff" stroke-width="0.08">Excitation (405 nm)</text>
<text transform="translate(218.60,33.00) scale(0.950,1)" x="0.15 7.81 17.21 19.81 25.53 31.19 33.81 40.17 46.47 49.66 53.52 59.88 66.24 72.54 75.78 82.21 91.63" y="0" font-size="11.00" fill="#189e24" stroke="#189e24" stroke-width="0.08">Emission (500 nm)</text>
<text transform="translate(132.50,168.90) scale(0.950,1)" x="0.14 7.14 13.46 16.71 23.01 25.58 28.83 35.21 41.59 47.98 54.36 60.73 66.48 72.92 82.42 88.80 95.11 98.30 101.49 104.74 111.11 116.80 120.05 126.38 130.19 133.39 137.26 143.64 150.03 156.34 159.60 166.04 175.48" y="0" font-size="11.00" fill="#000000" stroke="#000000">Total enhancement factor (500 nm)</text>
<clipPath id="c1top"><rect x="415.55" y="21.50" width="250.95" height="122.50"/></clipPath>
<g fill="none" stroke-width="1.00" stroke-linejoin="round" clip-path="url(#c1top)">
<path d="M415.55,143.65 L415.95,143.64 L416.35,143.62 L416.75,143.59 L417.16,143.54 L417.56,143.48 L417.96,143.41 L418.36,143.32 L418.76,143.22 L419.16,143.11 L419.57,142.98 L419.97,142.84 L420.37,142.69 L420.77,142.52 L421.17,142.34 L421.57,142.14 L421.97,141.93 L422.38,141.71 L422.78,141.47 L423.18,141.22 L423.58,140.96 L423.98,140.68 L424.38,140.38 L424.78,140.08 L425.19,139.75 L425.59,139.41 L425.99,139.06 L426.39,138.69 L426.79,138.31 L427.19,137.91 L427.60,137.50 L428.00,137.07 L428.40,136.63 L428.80,136.16 L429.20,135.69 L429.60,135.20 L430.00,134.69 L430.41,134.16 L430.81,133.62 L431.21,133.06 L431.61,132.49 L432.01,131.90 L432.41,131.29 L432.82,130.66 L433.22,130.01 L433.62,129.35 L434.02,128.67 L434.42,127.97 L434.82,127.26 L435.22,126.52 L435.63,125.77 L436.03,125.00 L436.43,124.21 L436.83,123.40 L437.23,122.57 L437.63,121.72 L438.04,120.85 L438.44,119.96 L438.84,119.06 L439.24,118.13 L439.64,117.18 L440.04,116.22 L440.44,115.23 L440.85,114.22 L441.25,113.20 L441.65,112.15 L442.05,111.08 L442.45,110.00 L442.85,108.89 L443.25,107.76 L443.66,106.62 L444.06,105.45 L444.46,104.27 L444.86,103.06 L445.26,101.84 L445.66,100.59 L446.07,99.33 L446.47,98.05 L446.87,96.75 L447.27,95.44 L447.67,94.10 L448.07,92.76 L448.47,91.39 L448.88,90.01 L449.28,88.62 L449.68,87.21 L450.08,85.79 L450.48,84.36 L450.88,82.92 L451.29,81.46 L451.69,80.00 L452.09,78.53 L452.49,77.05 L452.89,75.57 L453.29,74.09 L453.69,72.60 L454.10,71.11 L454.50,69.63 L454.90,68.14 L455.30,66.66 L455.70,65.19 L456.10,63.73 L456.51,62.27 L456.91,60.83 L457.31,59.40 L457.71,57.99 L458.11,56.60 L458.51,55.23 L458.91,53.88 L459.32,52.56 L459.72,51.27 L460.12,50.00 L460.52,48.77 L460.92,47.58 L461.32,46.43 L461.72,45.31 L462.13,44.24 L462.53,43.21 L462.93,42.24 L463.33,41.31 L463.73,40.43 L464.13,39.61 L464.54,38.84 L464.94,38.13 L465.34,37.48 L465.74,36.90 L466.14,36.37 L466.54,35.91 L466.94,35.52 L467.35,35.19 L467.75,34.92 L468.15,34.73 L468.55,34.61 L468.95,34.55 L469.35,34.56 L469.76,34.65 L470.16,34.80 L470.56,35.02 L470.96,35.30 L471.36,35.66 L471.76,36.08 L472.16,36.56 L472.57,37.11 L472.97,37.72 L473.37,38.39 L473.77,39.12 L474.17,39.91 L474.57,40.75 L474.97,41.65 L475.38,42.60 L475.78,43.59 L476.18,44.64 L476.58,45.73 L476.98,46.86 L477.38,48.02 L477.79,49.23 L478.19,50.47 L478.59,51.75 L478.99,53.05 L479.39,54.38 L479.79,55.74 L480.19,57.12 L480.60,58.52 L481.00,59.93 L481.40,61.37 L481.80,62.81 L482.20,64.27 L482.60,65.74 L483.01,67.22 L483.41,68.70 L483.81,70.18 L484.21,71.67 L484.61,73.16 L485.01,74.65 L485.41,76.13 L485.82,77.61 L486.22,79.08 L486.62,80.55 L487.02,82.01 L487.42,83.46 L487.82,84.90 L488.23,86.33 L488.63,87.74 L489.03,89.14 L489.43,90.53 L489.83,91.91 L490.23,93.26 L490.63,94.61 L491.04,95.93 L491.44,97.24 L491.84,98.53 L492.24,99.81 L492.64,101.06 L493.04,102.30 L493.44,103.51 L493.85,104.71 L494.25,105.89 L494.65,107.05 L495.05,108.19 L495.45,109.31 L495.85,110.41 L496.26,111.49 L496.66,112.55 L497.06,113.59 L497.46,114.60 L497.86,115.60 L498.26,116.58 L498.66,117.54 L499.07,118.48 L499.47,119.40 L499.87,120.30 L500.27,121.18 L500.67,122.04 L501.07,122.88 L501.48,123.70 L501.88,124.51 L502.28,125.29 L502.68,126.05 L503.08,126.80 L503.48,127.53 L503.88,128.24 L504.29,128.93 L504.69,129.60 L505.09,130.26 L505.49,130.90 L505.89,131.52 L506.29,132.12 L506.70,132.71 L507.10,133.27 L507.50,133.83 L507.90,134.36 L508.30,134.88 L508.70,135.38 L509.10,135.87 L509.51,136.34 L509.91,136.79 L510.31,137.23 L510.71,137.66 L511.11,138.06 L511.51,138.46 L511.91,138.83 L512.32,139.20 L512.72,139.54 L513.12,139.87 L513.52,140.19 L513.92,140.50 L514.32,140.78 L514.73,141.06 L515.13,141.32 L515.53,141.56 L515.93,141.80 L516.33,142.01 L516.73,142.22 L517.13,142.41 L517.54,142.59 L517.94,142.75 L518.34,142.90 L518.74,143.03 L519.14,143.15 L519.54,143.26 L519.95,143.36 L520.35,143.44 L520.75,143.51 L521.15,143.56 L521.55,143.60 L521.95,143.63 L522.35,143.65 L522.76,143.65 L523.16,143.64 L523.56,143.61 L523.96,143.57 L524.36,143.52 L524.76,143.46 L525.16,143.38 L525.57,143.29 L525.97,143.18 L526.37,143.06 L526.77,142.93 L527.17,142.79 L527.57,142.63 L527.98,142.45 L528.38,142.27 L528.78,142.07 L529.18,141.85 L529.58,141.62 L529.98,141.38 L530.38,141.13 L530.79,140.85 L531.19,140.57 L531.59,140.27 L531.99,139.96 L532.39,139.63 L532.79,139.28 L533.20,138.92 L533.60,138.55 L534.00,138.16 L534.40,137.76 L534.80,137.34 L535.20,136.90 L535.60,136.45 L536.01,135.99 L536.41,135.51 L536.81,135.01 L537.21,134.49 L537.61,133.96 L538.01,133.41 L538.42,132.85 L538.82,132.27 L539.22,131.67 L539.62,131.05 L540.02,130.42 L540.42,129.77 L540.82,129.10 L541.23,128.41 L541.63,127.71 L542.03,126.98 L542.43,126.24 L542.83,125.48 L543.23,124.70 L543.63,123.91 L544.04,123.09 L544.44,122.25 L544.84,121.40 L545.24,120.52 L545.64,119.63 L546.04,118.71 L546.45,117.78 L546.85,116.82 L547.25,115.85 L547.65,114.86 L548.05,113.84 L548.45,112.81 L548.85,111.75 L549.26,110.68 L549.66,109.59 L550.06,108.47 L550.46,107.34 L550.86,106.18 L551.26,105.01 L551.67,103.82 L552.07,102.60 L552.47,101.37 L552.87,100.12 L553.27,98.85 L553.67,97.57 L554.07,96.26 L554.48,94.94 L554.88,93.60 L555.28,92.25 L555.68,90.88 L556.08,89.49 L556.48,88.09 L556.89,86.68 L557.29,85.26 L557.69,83.82 L558.09,82.37 L558.49,80.91 L558.89,79.45 L559.29,77.98 L559.70,76.50 L560.10,75.02 L560.50,73.53 L560.90,72.04 L561.30,70.56 L561.70,69.07 L562.10,67.59 L562.51,66.11 L562.91,64.64 L563.31,63.18 L563.71,61.73 L564.11,60.29 L564.51,58.87 L564.92,57.47 L565.32,56.08 L565.72,54.72 L566.12,53.38 L566.52,52.07 L566.92,50.79 L567.32,49.54 L567.73,48.32 L568.13,47.14 L568.53,46.00 L568.93,44.91 L569.33,43.85 L569.73,42.84 L570.14,41.88 L570.54,40.97 L570.94,40.12 L571.34,39.31 L571.74,38.57 L572.14,37.88 L572.54,37.26 L572.95,36.69 L573.35,36.19 L573.75,35.75 L574.15,35.38 L574.55,35.08 L574.95,34.84 L575.35,34.68 L575.76,34.58 L576.16,34.55 L576.56,34.59 L576.96,34.69 L577.36,34.87 L577.76,35.11 L578.17,35.43 L578.57,35.81 L578.97,36.25 L579.37,36.76 L579.77,37.33 L580.17,37.96 L580.57,38.66 L580.98,39.41 L581.38,40.22 L581.78,41.08 L582.18,42.00 L582.58,42.97 L582.98,43.98 L583.39,45.04 L583.79,46.14 L584.19,47.29 L584.59,48.47 L584.99,49.69 L585.39,50.95 L585.79,52.23 L586.20,53.55 L586.60,54.89 L587.00,56.25 L587.40,57.64 L587.80,59.05 L588.20,60.47 L588.61,61.91 L589.01,63.36 L589.41,64.82 L589.81,66.29 L590.21,67.77 L590.61,69.26 L591.01,70.74 L591.42,72.23 L591.82,73.72 L592.22,75.20 L592.62,76.68 L593.02,78.16 L593.42,79.63 L593.82,81.10 L594.23,82.55 L594.63,84.00 L595.03,85.43 L595.43,86.86 L595.83,88.27 L596.23,89.67 L596.64,91.05 L597.04,92.42 L597.44,93.77 L597.84,95.11 L598.24,96.43 L598.64,97.73 L599.04,99.01 L599.45,100.28 L599.85,101.53 L600.25,102.76 L600.65,103.97 L601.05,105.16 L601.45,106.33 L601.86,107.48 L602.26,108.61 L602.66,109.72 L603.06,110.81 L603.46,111.89 L603.86,112.94 L604.26,113.97 L604.67,114.98 L605.07,115.97 L605.47,116.94 L605.87,117.90 L606.27,118.83 L606.67,119.74 L607.08,120.63 L607.48,121.50 L607.88,122.36 L608.28,123.19 L608.68,124.01 L609.08,124.80 L609.48,125.58 L609.89,126.34 L610.29,127.08 L610.69,127.80 L611.09,128.50 L611.49,129.18 L611.89,129.85 L612.29,130.50 L612.70,131.13 L613.10,131.74 L613.50,132.34 L613.90,132.92 L614.30,133.48 L614.70,134.03 L615.11,134.56 L615.51,135.07 L615.91,135.57 L616.31,136.05 L616.71,136.51 L617.11,136.96 L617.51,137.39 L617.92,137.81 L618.32,138.21 L618.72,138.60 L619.12,138.97 L619.52,139.33 L619.92,139.67 L620.33,140.00 L620.73,140.31 L621.13,140.61 L621.53,140.89 L621.93,141.16 L622.33,141.41 L622.73,141.65 L623.14,141.88 L623.54,142.09 L623.94,142.29 L624.34,142.48 L624.74,142.65 L625.14,142.81 L625.54,142.95 L625.95,143.08 L626.35,143.20 L626.75,143.30 L627.15,143.39 L627.55,143.47 L627.95,143.53 L628.36,143.58 L628.76,143.62 L629.16,143.64 L629.56,143.65 L629.96,143.65 L630.36,143.63 L630.76,143.60 L631.17,143.56 L631.57,143.50 L631.97,143.43 L632.37,143.35 L632.77,143.25 L633.17,143.14 L633.58,143.02 L633.98,142.88 L634.38,142.73 L634.78,142.56 L635.18,142.39 L635.58,142.19 L635.98,141.99 L636.39,141.77 L636.79,141.53 L637.19,141.29 L637.59,141.03 L637.99,140.75 L638.39,140.46 L638.80,140.15 L639.20,139.83 L639.60,139.50 L640.00,139.15 L640.40,138.79 L640.80,138.41 L641.20,138.01 L641.61,137.60 L642.01,137.18 L642.41,136.74 L642.81,136.28 L643.21,135.81 L643.61,135.32 L644.01,134.82 L644.42,134.30 L644.82,133.76 L645.22,133.20 L645.62,132.63 L646.02,132.04 L646.42,131.44 L646.83,130.82 L647.23,130.18 L647.63,129.52 L648.03,128.84 L648.43,128.15 L648.83,127.44 L649.23,126.71 L649.64,125.96 L650.04,125.19 L650.44,124.41 L650.84,123.60 L651.24,122.78 L651.64,121.93 L652.05,121.07 L652.45,120.19 L652.85,119.29 L653.25,118.36 L653.65,117.42 L654.05,116.46 L654.45,115.48 L654.86,114.48 L655.26,113.46 L655.66,112.42 L656.06,111.35 L656.46,110.27 L656.86,109.17 L657.27,108.05 L657.67,106.91 L658.07,105.74 L658.47,104.56 L658.87,103.36 L659.27,102.14 L659.67,100.90 L660.08,99.65 L660.48,98.37 L660.88,97.08 L661.28,95.77 L661.68,94.44 L662.08,93.10 L662.48,91.73 L662.89,90.36 L663.29,88.97 L663.69,87.56 L664.09,86.15 L664.49,84.72 L664.89,83.28 L665.30,81.83 L665.70,80.37 L666.10,78.90 L666.50,77.42" stroke="#ea2620"/>
<path d="M415.55,143.65 L415.95,143.62 L416.35,143.56 L416.75,143.46 L417.16,143.34 L417.56,143.18 L417.96,143.00 L418.36,142.78 L418.76,142.53 L419.16,142.25 L419.57,141.93 L419.97,141.59 L420.37,141.21 L420.77,140.80 L421.17,140.37 L421.57,139.89 L421.97,139.39 L422.38,138.86 L422.78,138.30 L423.18,137.70 L423.58,137.08 L423.98,136.42 L424.38,135.73 L424.78,135.02 L425.19,134.27 L425.59,133.49 L425.99,132.68 L426.39,131.84 L426.79,130.97 L427.19,130.08 L427.60,129.15 L428.00,128.20 L428.40,127.21 L428.80,126.20 L429.20,125.16 L429.60,124.09 L430.00,123.00 L430.41,121.88 L430.81,120.74 L431.21,119.57 L431.61,118.37 L432.01,117.15 L432.41,115.91 L432.82,114.65 L433.22,113.36 L433.62,112.06 L434.02,110.74 L434.42,109.39 L434.82,108.04 L435.22,106.66 L435.63,105.27 L436.03,103.87 L436.43,102.45 L436.83,101.03 L437.23,99.59 L437.63,98.15 L438.04,96.70 L438.44,95.25 L438.84,93.79 L439.24,92.34 L439.64,90.89 L440.04,89.44 L440.44,87.99 L440.85,86.56 L441.25,85.13 L441.65,83.72 L442.05,82.32 L442.45,80.94 L442.85,79.58 L443.25,78.24 L443.66,76.92 L444.06,75.63 L444.46,74.37 L444.86,73.14 L445.26,71.95 L445.66,70.79 L446.07,69.67 L446.47,68.60 L446.87,67.56 L447.27,66.58 L447.67,65.64 L448.07,64.75 L448.47,63.92 L448.88,63.14 L449.28,62.41 L449.68,61.75 L450.08,61.14 L450.48,60.60 L450.88,60.12 L451.29,59.70 L451.69,59.35 L452.09,59.07 L452.49,58.85 L452.89,58.70 L453.29,58.62 L453.69,58.60 L454.10,58.65 L454.50,58.78 L454.90,58.96 L455.30,59.22 L455.70,59.54 L456.10,59.93 L456.51,60.38 L456.91,60.90 L457.31,61.48 L457.71,62.12 L458.11,62.81 L458.51,63.57 L458.91,64.38 L459.32,65.25 L459.72,66.16 L460.12,67.13 L460.52,68.14 L460.92,69.20 L461.32,70.30 L461.72,71.44 L462.13,72.62 L462.53,73.83 L462.93,75.08 L463.33,76.35 L463.73,77.66 L464.13,78.99 L464.54,80.34 L464.94,81.71 L465.34,83.10 L465.74,84.51 L466.14,85.93 L466.54,87.36 L466.94,88.80 L467.35,90.25 L467.75,91.70 L468.15,93.16 L468.55,94.61 L468.95,96.06 L469.35,97.52 L469.76,98.96 L470.16,100.40 L470.56,101.83 L470.96,103.25 L471.36,104.66 L471.76,106.05 L472.16,107.44 L472.57,108.80 L472.97,110.15 L473.37,111.48 L473.77,112.80 L474.17,114.09 L474.57,115.36 L474.97,116.61 L475.38,117.84 L475.78,119.05 L476.18,120.23 L476.58,121.38 L476.98,122.51 L477.38,123.62 L477.79,124.70 L478.19,125.75 L478.59,126.77 L478.99,127.77 L479.39,128.74 L479.79,129.67 L480.19,130.59 L480.60,131.47 L481.00,132.32 L481.40,133.14 L481.80,133.93 L482.20,134.69 L482.60,135.42 L483.01,136.12 L483.41,136.79 L483.81,137.43 L484.21,138.04 L484.61,138.62 L485.01,139.16 L485.41,139.68 L485.82,140.16 L486.22,140.62 L486.62,141.04 L487.02,141.43 L487.42,141.79 L487.82,142.11 L488.23,142.41 L488.63,142.67 L489.03,142.90 L489.43,143.11 L489.83,143.28 L490.23,143.41 L490.63,143.52 L491.04,143.59 L491.44,143.64 L491.84,143.65 L492.24,143.63 L492.64,143.58 L493.04,143.50 L493.44,143.38 L493.85,143.24 L494.25,143.06 L494.65,142.85 L495.05,142.61 L495.45,142.34 L495.85,142.03 L496.26,141.70 L496.66,141.33 L497.06,140.93 L497.46,140.51 L497.86,140.05 L498.26,139.55 L498.66,139.03 L499.07,138.48 L499.47,137.89 L499.87,137.28 L500.27,136.63 L500.67,135.95 L501.07,135.24 L501.48,134.50 L501.88,133.74 L502.28,132.94 L502.68,132.11 L503.08,131.25 L503.48,130.36 L503.88,129.44 L504.29,128.50 L504.69,127.52 L505.09,126.52 L505.49,125.49 L505.89,124.43 L506.29,123.35 L506.70,122.23 L507.10,121.10 L507.50,119.93 L507.90,118.75 L508.30,117.54 L508.70,116.30 L509.10,115.05 L509.51,113.77 L509.91,112.47 L510.31,111.15 L510.71,109.82 L511.11,108.46 L511.51,107.09 L511.91,105.71 L512.32,104.31 L512.72,102.89 L513.12,101.47 L513.52,100.04 L513.92,98.60 L514.32,97.15 L514.73,95.70 L515.13,94.25 L515.53,92.79 L515.93,91.34 L516.33,89.89 L516.73,88.44 L517.13,87.01 L517.54,85.58 L517.94,84.16 L518.34,82.76 L518.74,81.37 L519.14,80.00 L519.54,78.65 L519.95,77.33 L520.35,76.03 L520.75,74.76 L521.15,73.52 L521.55,72.32 L521.95,71.15 L522.35,70.02 L522.76,68.93 L523.16,67.88 L523.56,66.88 L523.96,65.93 L524.36,65.02 L524.76,64.17 L525.16,63.38 L525.57,62.63 L525.97,61.95 L526.37,61.33 L526.77,60.76 L527.17,60.26 L527.57,59.83 L527.98,59.46 L528.38,59.15 L528.78,58.91 L529.18,58.74 L529.58,58.63 L529.98,58.60 L530.38,58.63 L530.79,58.73 L531.19,58.90 L531.59,59.13 L531.99,59.43 L532.39,59.80 L532.79,60.23 L533.20,60.73 L533.60,61.29 L534.00,61.91 L534.40,62.59 L534.80,63.33 L535.20,64.12 L535.60,64.97 L536.01,65.87 L536.41,66.82 L536.81,67.82 L537.21,68.86 L537.61,69.95 L538.01,71.08 L538.42,72.24 L538.82,73.45 L539.22,74.68 L539.62,75.95 L540.02,77.25 L540.42,78.57 L540.82,79.92 L541.23,81.28 L541.63,82.67 L542.03,84.07 L542.43,85.49 L542.83,86.92 L543.23,88.35 L543.63,89.80 L544.04,91.25 L544.44,92.70 L544.84,94.16 L545.24,95.61 L545.64,97.06 L546.04,98.51 L546.45,99.95 L546.85,101.38 L547.25,102.81 L547.65,104.22 L548.05,105.62 L548.45,107.01 L548.85,108.38 L549.26,109.73 L549.66,111.07 L550.06,112.39 L550.46,113.69 L550.86,114.97 L551.26,116.22 L551.67,117.46 L552.07,118.67 L552.47,119.86 L552.87,121.02 L553.27,122.16 L553.67,123.28 L554.07,124.36 L554.48,125.42 L554.88,126.46 L555.28,127.46 L555.68,128.44 L556.08,129.38 L556.48,130.30 L556.89,131.19 L557.29,132.05 L557.69,132.89 L558.09,133.69 L558.49,134.46 L558.89,135.20 L559.29,135.91 L559.70,136.59 L560.10,137.24 L560.50,137.85 L560.90,138.44 L561.30,139.00 L561.70,139.52 L562.10,140.02 L562.51,140.48 L562.91,140.91 L563.31,141.31 L563.71,141.68 L564.11,142.01 L564.51,142.32 L564.92,142.59 L565.32,142.84 L565.72,143.05 L566.12,143.23 L566.52,143.37 L566.92,143.49 L567.32,143.57 L567.73,143.63 L568.13,143.65 L568.53,143.64 L568.93,143.60 L569.33,143.53 L569.73,143.42 L570.14,143.28 L570.54,143.12 L570.94,142.92 L571.34,142.69 L571.74,142.43 L572.14,142.13 L572.54,141.81 L572.95,141.45 L573.35,141.06 L573.75,140.64 L574.15,140.19 L574.55,139.71 L574.95,139.20 L575.35,138.65 L575.76,138.08 L576.16,137.47 L576.56,136.83 L576.96,136.17 L577.36,135.47 L577.76,134.74 L578.17,133.98 L578.57,133.19 L578.97,132.37 L579.37,131.52 L579.77,130.64 L580.17,129.73 L580.57,128.80 L580.98,127.83 L581.38,126.84 L581.78,125.81 L582.18,124.76 L582.58,123.69 L582.98,122.58 L583.39,121.45 L583.79,120.30 L584.19,119.12 L584.59,117.92 L584.99,116.69 L585.39,115.44 L585.79,114.17 L586.20,112.88 L586.60,111.57 L587.00,110.24 L587.40,108.89 L587.80,107.52 L588.20,106.14 L588.61,104.75 L589.01,103.34 L589.41,101.92 L589.81,100.49 L590.21,99.05 L590.61,97.61 L591.01,96.16 L591.42,94.70 L591.82,93.25 L592.22,91.79 L592.62,90.34 L593.02,88.89 L593.42,87.45 L593.82,86.02 L594.23,84.60 L594.63,83.19 L595.03,81.80 L595.43,80.43 L595.83,79.07 L596.23,77.74 L596.64,76.43 L597.04,75.16 L597.44,73.91 L597.84,72.69 L598.24,71.51 L598.64,70.37 L599.04,69.27 L599.45,68.20 L599.85,67.19 L600.25,66.22 L600.65,65.30 L601.05,64.43 L601.45,63.62 L601.86,62.86 L602.26,62.16 L602.66,61.52 L603.06,60.93 L603.46,60.41 L603.86,59.96 L604.26,59.56 L604.67,59.24 L605.07,58.98 L605.47,58.79 L605.87,58.66 L606.27,58.60 L606.67,58.61 L607.08,58.69 L607.48,58.84 L607.88,59.05 L608.28,59.33 L608.68,59.68 L609.08,60.09 L609.48,60.57 L609.89,61.11 L610.29,61.71 L610.69,62.37 L611.09,63.09 L611.49,63.87 L611.89,64.70 L612.29,65.58 L612.70,66.52 L613.10,67.50 L613.50,68.53 L613.90,69.61 L614.30,70.72 L614.70,71.88 L615.11,73.07 L615.51,74.29 L615.91,75.55 L616.31,76.84 L616.71,78.15 L617.11,79.49 L617.51,80.85 L617.92,82.23 L618.32,83.63 L618.72,85.04 L619.12,86.47 L619.52,87.90 L619.92,89.35 L620.33,90.80 L620.73,92.25 L621.13,93.70 L621.53,95.16 L621.93,96.61 L622.33,98.06 L622.73,99.50 L623.14,100.94 L623.54,102.36 L623.94,103.78 L624.34,105.18 L624.74,106.57 L625.14,107.95 L625.54,109.31 L625.95,110.65 L626.35,111.98 L626.75,113.28 L627.15,114.57 L627.55,115.83 L627.95,117.08 L628.36,118.30 L628.76,119.49 L629.16,120.66 L629.56,121.81 L629.96,122.93 L630.36,124.03 L630.76,125.09 L631.17,126.14 L631.57,127.15 L631.97,128.13 L632.37,129.09 L632.77,130.02 L633.17,130.92 L633.58,131.79 L633.98,132.63 L634.38,133.44 L634.78,134.22 L635.18,134.97 L635.58,135.69 L635.98,136.38 L636.39,137.04 L636.79,137.66 L637.19,138.26 L637.59,138.83 L637.99,139.36 L638.39,139.86 L638.80,140.34 L639.20,140.78 L639.60,141.19 L640.00,141.56 L640.40,141.91 L640.80,142.23 L641.20,142.51 L641.61,142.76 L642.01,142.98 L642.41,143.17 L642.81,143.33 L643.21,143.46 L643.61,143.55 L644.01,143.61 L644.42,143.65 L644.82,143.65 L645.22,143.61 L645.62,143.55 L646.02,143.46 L646.42,143.33 L646.83,143.17 L647.23,142.98 L647.63,142.76 L648.03,142.51 L648.43,142.23 L648.83,141.91 L649.23,141.56 L649.64,141.19 L650.04,140.78 L650.44,140.34 L650.84,139.86 L651.24,139.36 L651.64,138.83 L652.05,138.26 L652.45,137.66 L652.85,137.04 L653.25,136.38 L653.65,135.69 L654.05,134.97 L654.45,134.22 L654.86,133.44 L655.26,132.63 L655.66,131.79 L656.06,130.92 L656.46,130.02 L656.86,129.09 L657.27,128.13 L657.67,127.15 L658.07,126.14 L658.47,125.09 L658.87,124.03 L659.27,122.93 L659.67,121.81 L660.08,120.66 L660.48,119.49 L660.88,118.30 L661.28,117.08 L661.68,115.83 L662.08,114.57 L662.48,113.28 L662.89,111.98 L663.29,110.65 L663.69,109.31 L664.09,107.95 L664.49,106.57 L664.89,105.18 L665.30,103.78 L665.70,102.36 L666.10,100.94 L666.50,99.50" stroke="#3c3cbc"/>
</g>
<rect x="415.55" y="21.50" width="250.95" height="122.00" fill="none" stroke="#3e3e3e" stroke-width="1.00"/>
<text transform="translate(410.55,146.20) scale(0.950,1)" x="-6.28" y="0" font-size="11.00" fill="#000000" stroke="#000000">0</text>
<text transform="translate(410.55,128.77) scale(0.950,1)" x="-6.28" y="0" font-size="11.00" fill="#000000" stroke="#000000">1</text>
<text transform="translate(410.55,111.34) scale(0.950,1)" x="-6.28" y="0" font-size="11.00" fill="#000000" stroke="#000000">2</text>
<text transform="translate(410.55,93.91) scale(0.950,1)" x="-6.28" y="0" font-size="11.00" fill="#000000" stroke="#000000">3</text>
<text transform="translate(410.55,76.49) scale(0.950,1)" x="-6.28" y="0" font-size="11.00" fill="#000000" stroke="#000000">4</text>
<text transform="translate(410.55,59.06) scale(0.950,1)" x="-6.28" y="0" font-size="11.00" fill="#000000" stroke="#000000">5</text>
<text transform="translate(410.55,41.63) scale(0.950,1)" x="-6.28" y="0" font-size="11.00" fill="#000000" stroke="#000000">6</text>
<text transform="translate(410.55,24.20) scale(0.950,1)" x="-6.28" y="0" font-size="11.00" fill="#000000" stroke="#000000">7</text>
<path d="M415.55,126.07 h5.50 M415.55,108.64 h5.50 M415.55,91.21 h5.50 M415.55,73.79 h5.50 M415.55,56.36 h5.50 M415.55,38.93 h5.50 M465.44,143.50 v-5.50 M515.63,143.50 v-5.50 M565.82,143.50 v-5.50 M616.01,143.50 v-5.50" stroke="#3e3e3e" stroke-width="1.00" fill="none"/>
<text transform="translate(386.15,82.50) rotate(-90) scale(0.950,1)" x="-50.76 -43.19 -36.87 -30.55 -24.22 -17.91 -12.21 -5.84 3.58 9.91 16.18 19.34 22.50 25.71 32.02 37.66 40.87 47.16" y="0" font-size="11.00" fill="#000000" stroke="#000000">Enhancement factor</text>
<clipPath id="c1bot"><rect x="415.55" y="153.45" width="250.95" height="122.50"/></clipPath>
<g fill="none" stroke-width="1.00" stroke-linejoin="round" clip-path="url(#c1bot)">
<path d="M415.55,275.60 L415.95,275.60 L416.35,275.60 L416.75,275.60 L417.16,275.60 L417.56,275.60 L417.96,275.60 L418.36,275.60 L418.76,275.59 L419.16,275.59 L419.57,275.59 L419.97,275.58 L420.37,275.57 L420.77,275.56 L421.17,275.55 L421.57,275.53 L421.97,275.51 L422.38,275.48 L422.78,275.45 L423.18,275.42 L423.58,275.38 L423.98,275.33 L424.38,275.28 L424.78,275.21 L425.19,275.14 L425.59,275.06 L425.99,274.97 L426.39,274.87 L426.79,274.75 L427.19,274.62 L427.60,274.48 L428.00,274.32 L428.40,274.15 L428.80,273.96 L429.20,273.75 L429.60,273.52 L430.00,273.28 L430.41,273.01 L430.81,272.72 L431.21,272.40 L431.61,272.06 L432.01,271.69 L432.41,271.30 L432.82,270.87 L433.22,270.42 L433.62,269.93 L434.02,269.41 L434.42,268.86 L434.82,268.27 L435.22,267.65 L435.63,266.99 L436.03,266.29 L436.43,265.55 L436.83,264.76 L437.23,263.94 L437.63,263.08 L438.04,262.17 L438.44,261.21 L438.84,260.21 L439.24,259.17 L439.64,258.07 L440.04,256.93 L440.44,255.75 L440.85,254.51 L441.25,253.23 L441.65,251.91 L442.05,250.53 L442.45,249.11 L442.85,247.65 L443.25,246.14 L443.66,244.58 L444.06,242.99 L444.46,241.35 L444.86,239.68 L445.26,237.97 L445.66,236.23 L446.07,234.45 L446.47,232.64 L446.87,230.81 L447.27,228.96 L447.67,227.09 L448.07,225.20 L448.47,223.30 L448.88,221.40 L449.28,219.49 L449.68,217.58 L450.08,215.68 L450.48,213.80 L450.88,211.93 L451.29,210.08 L451.69,208.26 L452.09,206.47 L452.49,204.72 L452.89,203.01 L453.29,201.36 L453.69,199.76 L454.10,198.22 L454.50,196.74 L454.90,195.34 L455.30,194.02 L455.70,192.77 L456.10,191.62 L456.51,190.55 L456.91,189.58 L457.31,188.71 L457.71,187.94 L458.11,187.28 L458.51,186.73 L458.91,186.29 L459.32,185.96 L459.72,185.75 L460.12,185.66 L460.52,185.68 L460.92,185.83 L461.32,186.09 L461.72,186.47 L462.13,186.97 L462.53,187.59 L462.93,188.31 L463.33,189.16 L463.73,190.10 L464.13,191.16 L464.54,192.32 L464.94,193.57 L465.34,194.92 L465.74,196.36 L466.14,197.88 L466.54,199.49 L466.94,201.16 L467.35,202.91 L467.75,204.71 L468.15,206.57 L468.55,208.48 L468.95,210.44 L469.35,212.43 L469.76,214.46 L470.16,216.51 L470.56,218.58 L470.96,220.66 L471.36,222.75 L471.76,224.84 L472.16,226.92 L472.57,229.00 L472.97,231.06 L473.37,233.10 L473.77,235.12 L474.17,237.11 L474.57,239.07 L474.97,240.99 L475.38,242.87 L475.78,244.70 L476.18,246.49 L476.58,248.23 L476.98,249.92 L477.38,251.56 L477.79,253.14 L478.19,254.66 L478.59,256.13 L478.99,257.54 L479.39,258.89 L479.79,260.18 L480.19,261.41 L480.60,262.58 L481.00,263.69 L481.40,264.74 L481.80,265.74 L482.20,266.68 L482.60,267.56 L483.01,268.38 L483.41,269.15 L483.81,269.87 L484.21,270.53 L484.61,271.15 L485.01,271.72 L485.41,272.24 L485.82,272.71 L486.22,273.14 L486.62,273.53 L487.02,273.88 L487.42,274.19 L487.82,274.47 L488.23,274.71 L488.63,274.91 L489.03,275.09 L489.43,275.24 L489.83,275.36 L490.23,275.45 L490.63,275.52 L491.04,275.57 L491.44,275.59 L491.84,275.60 L492.24,275.59 L492.64,275.56 L493.04,275.52 L493.44,275.46 L493.85,275.40 L494.25,275.32 L494.65,275.23 L495.05,275.14 L495.45,275.03 L495.85,274.93 L496.26,274.81 L496.66,274.70 L497.06,274.58 L497.46,274.45 L497.86,274.33 L498.26,274.21 L498.66,274.09 L499.07,273.97 L499.47,273.85 L499.87,273.73 L500.27,273.62 L500.67,273.51 L501.07,273.41 L501.48,273.31 L501.88,273.22 L502.28,273.13 L502.68,273.05 L503.08,272.98 L503.48,272.91 L503.88,272.85 L504.29,272.80 L504.69,272.76 L505.09,272.72 L505.49,272.69 L505.89,272.67 L506.29,272.66 L506.70,272.66 L507.10,272.66 L507.50,272.68 L507.90,272.70 L508.30,272.73 L508.70,272.76 L509.10,272.81 L509.51,272.86 L509.91,272.92 L510.31,272.98 L510.71,273.05 L511.11,273.13 L511.51,273.22 L511.91,273.31 L512.32,273.40 L512.72,273.50 L513.12,273.60 L513.52,273.71 L513.92,273.82 L514.32,273.93 L514.73,274.04 L515.13,274.15 L515.53,274.27 L515.93,274.38 L516.33,274.50 L516.73,274.61 L517.13,274.72 L517.54,274.82 L517.94,274.93 L518.34,275.02 L518.74,275.12 L519.14,275.20 L519.54,275.28 L519.95,275.36 L520.35,275.42 L520.75,275.48 L521.15,275.52 L521.55,275.56 L521.95,275.58 L522.35,275.60 L522.76,275.60 L523.16,275.59 L523.56,275.56 L523.96,275.53 L524.36,275.47 L524.76,275.41 L525.16,275.33 L525.57,275.23 L525.97,275.12 L526.37,274.99 L526.77,274.85 L527.17,274.70 L527.57,274.52 L527.98,274.34 L528.38,274.13 L528.78,273.92 L529.18,273.68 L529.58,273.44 L529.98,273.18 L530.38,272.91 L530.79,272.62 L531.19,272.32 L531.59,272.01 L531.99,271.69 L532.39,271.37 L532.79,271.03 L533.20,270.68 L533.60,270.33 L534.00,269.97 L534.40,269.61 L534.80,269.24 L535.20,268.87 L535.60,268.49 L536.01,268.12 L536.41,267.75 L536.81,267.37 L537.21,267.00 L537.61,266.64 L538.01,266.28 L538.42,265.92 L538.82,265.57 L539.22,265.23 L539.62,264.90 L540.02,264.57 L540.42,264.26 L540.82,263.96 L541.23,263.67 L541.63,263.40 L542.03,263.14 L542.43,262.89 L542.83,262.66 L543.23,262.45 L543.63,262.25 L544.04,262.08 L544.44,261.92 L544.84,261.78 L545.24,261.65 L545.64,261.55 L546.04,261.47 L546.45,261.41 L546.85,261.37 L547.25,261.35 L547.65,261.35 L548.05,261.37 L548.45,261.41 L548.85,261.48 L549.26,261.56 L549.66,261.67 L550.06,261.80 L550.46,261.94 L550.86,262.11 L551.26,262.30 L551.67,262.51 L552.07,262.73 L552.47,262.98 L552.87,263.24 L553.27,263.52 L553.67,263.82 L554.07,264.13 L554.48,264.46 L554.88,264.80 L555.28,265.15 L555.68,265.52 L556.08,265.90 L556.48,266.29 L556.89,266.69 L557.29,267.10 L557.69,267.52 L558.09,267.94 L558.49,268.36 L558.89,268.79 L559.29,269.22 L559.70,269.65 L560.10,270.07 L560.50,270.50 L560.90,270.92 L561.30,271.33 L561.70,271.74 L562.10,272.13 L562.51,272.51 L562.91,272.88 L563.31,273.23 L563.71,273.57 L564.11,273.89 L564.51,274.18 L564.92,274.46 L565.32,274.70 L565.72,274.93 L566.12,275.12 L566.52,275.28 L566.92,275.41 L567.32,275.51 L567.73,275.57 L568.13,275.60 L568.53,275.59 L568.93,275.54 L569.33,275.44 L569.73,275.31 L570.14,275.13 L570.54,274.91 L570.94,274.65 L571.34,274.34 L571.74,273.98 L572.14,273.58 L572.54,273.14 L572.95,272.65 L573.35,272.11 L573.75,271.53 L574.15,270.90 L574.55,270.23 L574.95,269.52 L575.35,268.77 L575.76,267.97 L576.16,267.14 L576.56,266.27 L576.96,265.37 L577.36,264.43 L577.76,263.46 L578.17,262.46 L578.57,261.44 L578.97,260.39 L579.37,259.33 L579.77,258.24 L580.17,257.14 L580.57,256.03 L580.98,254.90 L581.38,253.77 L581.78,252.64 L582.18,251.50 L582.58,250.37 L582.98,249.25 L583.39,248.13 L583.79,247.02 L584.19,245.93 L584.59,244.86 L584.99,243.81 L585.39,242.78 L585.79,241.77 L586.20,240.80 L586.60,239.86 L587.00,238.95 L587.40,238.07 L587.80,237.24 L588.20,236.44 L588.61,235.69 L589.01,234.98 L589.41,234.31 L589.81,233.69 L590.21,233.13 L590.61,232.61 L591.01,232.14 L591.42,231.72 L591.82,231.36 L592.22,231.05 L592.62,230.79 L593.02,230.59 L593.42,230.45 L593.82,230.36 L594.23,230.32 L594.63,230.34 L595.03,230.41 L595.43,230.53 L595.83,230.71 L596.23,230.94 L596.64,231.22 L597.04,231.56 L597.44,231.94 L597.84,232.37 L598.24,232.84 L598.64,233.36 L599.04,233.92 L599.45,234.53 L599.85,235.17 L600.25,235.86 L600.65,236.58 L601.05,237.33 L601.45,238.11 L601.86,238.92 L602.26,239.76 L602.66,240.62 L603.06,241.51 L603.46,242.42 L603.86,243.34 L604.26,244.28 L604.67,245.23 L605.07,246.19 L605.47,247.15 L605.87,248.13 L606.27,249.10 L606.67,250.08 L607.08,251.06 L607.48,252.03 L607.88,252.99 L608.28,253.95 L608.68,254.90 L609.08,255.83 L609.48,256.76 L609.89,257.66 L610.29,258.55 L610.69,259.43 L611.09,260.28 L611.49,261.11 L611.89,261.93 L612.29,262.71 L612.70,263.48 L613.10,264.22 L613.50,264.94 L613.90,265.63 L614.30,266.29 L614.70,266.93 L615.11,267.55 L615.51,268.13 L615.91,268.69 L616.31,269.22 L616.71,269.73 L617.11,270.21 L617.51,270.67 L617.92,271.10 L618.32,271.50 L618.72,271.88 L619.12,272.24 L619.52,272.58 L619.92,272.89 L620.33,273.18 L620.73,273.44 L621.13,273.69 L621.53,273.92 L621.93,274.13 L622.33,274.32 L622.73,274.49 L623.14,274.65 L623.54,274.79 L623.94,274.92 L624.34,275.03 L624.74,275.13 L625.14,275.22 L625.54,275.30 L625.95,275.36 L626.35,275.42 L626.75,275.47 L627.15,275.51 L627.55,275.54 L627.95,275.56 L628.36,275.58 L628.76,275.59 L629.16,275.60 L629.56,275.60 L629.96,275.60 L630.36,275.59 L630.76,275.59 L631.17,275.58 L631.57,275.57 L631.97,275.56 L632.37,275.54 L632.77,275.53 L633.17,275.52 L633.58,275.51 L633.98,275.49 L634.38,275.48 L634.78,275.47 L635.18,275.46 L635.58,275.45 L635.98,275.45 L636.39,275.44 L636.79,275.44 L637.19,275.44 L637.59,275.44 L637.99,275.44 L638.39,275.45 L638.80,275.45 L639.20,275.46 L639.60,275.47 L640.00,275.48 L640.40,275.49 L640.80,275.51 L641.20,275.52 L641.61,275.53 L642.01,275.55 L642.41,275.56 L642.81,275.57 L643.21,275.58 L643.61,275.59 L644.01,275.60 L644.42,275.60 L644.82,275.60 L645.22,275.60 L645.62,275.59 L646.02,275.57 L646.42,275.55 L646.83,275.52 L647.23,275.49 L647.63,275.44 L648.03,275.39 L648.43,275.32 L648.83,275.25 L649.23,275.16 L649.64,275.05 L650.04,274.93 L650.44,274.80 L650.84,274.65 L651.24,274.48 L651.64,274.29 L652.05,274.07 L652.45,273.84 L652.85,273.58 L653.25,273.29 L653.65,272.98 L654.05,272.64 L654.45,272.27 L654.86,271.86 L655.26,271.42 L655.66,270.95 L656.06,270.44 L656.46,269.89 L656.86,269.30 L657.27,268.67 L657.67,267.99 L658.07,267.27 L658.47,266.50 L658.87,265.68 L659.27,264.81 L659.67,263.88 L660.08,262.90 L660.48,261.87 L660.88,260.78 L661.28,259.63 L661.68,258.42 L662.08,257.15 L662.48,255.81 L662.89,254.42 L663.29,252.95 L663.69,251.43 L664.09,249.83 L664.49,248.18 L664.89,246.45 L665.30,244.66 L665.70,242.81 L666.10,240.89 L666.50,238.90" stroke="#000000"/>
</g>
<rect x="415.55" y="153.45" width="250.95" height="122.00" fill="none" stroke="#3e3e3e" stroke-width="1.00"/>
<text transform="translate(410.55,278.15) scale(0.950,1)" x="-6.28" y="0" font-size="11.00" fill="#000000" stroke="#000000">0</text>
<text transform="translate(410.55,259.09) scale(0.950,1)" x="-6.28" y="0" font-size="11.00" fill="#000000" stroke="#000000">5</text>
<text transform="translate(410.55,240.02) scale(0.950,1)" x="-12.72 -6.28" y="0" font-size="11.00" fill="#000000" stroke="#000000">10</text>
<text transform="translate(410.55,220.96) scale(0.950,1)" x="-12.72 -6.28" y="0" font-size="11.00" fill="#000000" stroke="#000000">15</text>
<text transform="translate(410.55,201.90) scale(0.950,1)" x="-12.72 -6.28" y="0" font-size="11.00" fill="#000000" stroke="#000000">20</text>
<text transform="translate(410.55,182.84) scale(0.950,1)" x="-12.72 -6.28" y="0" font-size="11.00" fill="#000000" stroke="#000000">25</text>
<text transform="translate(410.55,163.77) scale(0.950,1)" x="-12.72 -6.28" y="0" font-size="11.00" fill="#000000" stroke="#000000">30</text>
<path d="M415.55,256.39 h5.50 M415.55,237.32 h5.50 M415.55,218.26 h5.50 M415.55,199.20 h5.50 M415.55,180.14 h5.50 M415.55,161.07 h5.50 M465.44,275.45 v-5.50 M515.63,275.45 v-5.50 M565.82,275.45 v-5.50 M616.01,275.45 v-5.50" stroke="#3e3e3e" stroke-width="1.00" fill="none"/>
<text transform="translate(386.15,214.45) rotate(-90) scale(0.950,1)" x="-50.76 -43.19 -36.87 -30.55 -24.22 -17.91 -12.21 -5.84 3.58 9.91 16.18 19.34 22.50 25.71 32.02 37.66 40.87 47.16" y="0" font-size="11.00" fill="#000000" stroke="#000000">Enhancement factor</text>
<text transform="translate(413.85,288.80) scale(0.950,1)" x="-3.06" y="0" font-size="11.00" fill="#000000" stroke="#000000">0</text>
<text transform="translate(466.34,288.80) scale(0.950,1)" x="-9.34 -3.06 3.22" y="0" font-size="11.00" fill="#000000" stroke="#000000">100</text>
<text transform="translate(515.93,288.80) scale(0.950,1)" x="-9.34 -3.06 3.22" y="0" font-size="11.00" fill="#000000" stroke="#000000">200</text>
<text transform="translate(566.12,288.80) scale(0.950,1)" x="-9.34 -3.06 3.22" y="0" font-size="11.00" fill="#000000" stroke="#000000">300</text>
<text transform="translate(616.31,288.80) scale(0.950,1)" x="-9.34 -3.06 3.22" y="0" font-size="11.00" fill="#000000" stroke="#000000">400</text>
<text transform="translate(666.50,288.80) scale(0.950,1)" x="-9.34 -3.06 3.22" y="0" font-size="11.00" fill="#000000" stroke="#000000">500</text>
<text transform="translate(541.02,304.20) scale(0.950,1)" x="-16.57 -10.21 -6.97 -3.05 3.47 12.97" y="0" font-size="11.00" fill="#000000" stroke="#000000">d (nm)</text>
<text transform="translate(485.60,54.80) scale(0.950,1)" x="0.13 7.70 13.39 19.04 21.58 24.80 31.08 34.24 36.83 43.17 49.45 52.63 56.47 62.80 69.14 75.42 78.64 85.03 94.43" y="0" font-size="11.00" fill="#0a0aff" stroke="#0a0aff" stroke-width="0.08">Excitation (405 nm)</text>
<text transform="translate(569.80,33.00) scale(0.950,1)" x="0.15 7.81 17.21 19.81 25.53 31.19 33.81 40.17 46.47 49.66 53.52 59.88 66.24 72.54 75.78 82.21 91.63" y="0" font-size="11.00" fill="#ff0a0a" stroke="#ff0a0a" stroke-width="0.08">Emission (640 nm)</text>
<text transform="translate(479.30,168.90) scale(0.950,1)" x="0.14 7.14 13.46 16.71 23.01 25.58 28.83 35.21 41.59 47.98 54.36 60.73 66.48 72.92 82.42 88.80 95.11 98.30 101.49 104.74 111.11 116.80 120.05 126.38 130.19 133.39 137.26 143.64 150.03 156.34 159.60 166.04 175.48" y="0" font-size="11.00" fill="#000000" stroke="#000000">Total enhancement factor (640 nm)</text>
</svg></body></html>
